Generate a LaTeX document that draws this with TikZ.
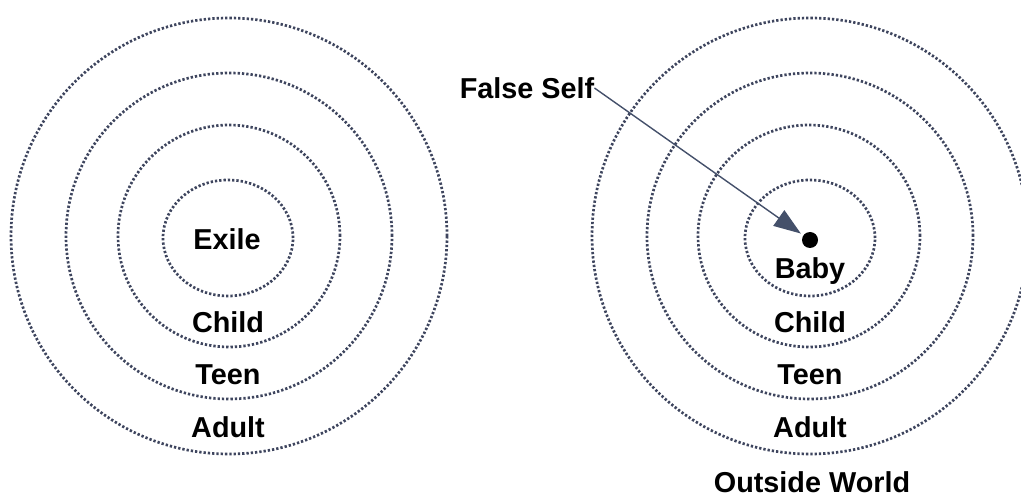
\documentclass[tikz,border=0pt]{standalone}
\usepackage{fontspec}
\setmainfont{Liberation Sans}
\usepackage{tikz}
\usetikzlibrary{positioning, arrows.meta}

\definecolor{ringgray}{HTML}{3E455E}
\definecolor{arrowblue}{HTML}{44506A}

\begin{document}
\begin{tikzpicture}[x=1pt, y=-1pt,
          ring/.style={draw=ringgray, line width=2.7pt, dash pattern=on 2.3pt off 2.0pt},
          every node/.style={font=\fontsize{28.8}{30}\selectfont\bfseries, inner sep=0pt}]
          \clip (0,0) rectangle (1021,497);
          % left rings
          \draw[ring] (229,236) circle [radius=218pt];
          \draw[ring] (229,236) circle [radius=163pt];
          \draw[ring] (229,236) circle [radius=111pt];
          \draw[ring] (228,238) ellipse [x radius=65pt, y radius=58pt];
          % right rings
          \draw[ring] (810,236) circle [radius=218pt];
          \draw[ring] (810,236) circle [radius=163pt];
          \draw[ring] (809,236) circle [radius=111pt];
          \draw[ring] (810,238) ellipse [x radius=65pt, y radius=58pt];

          \node (exile) at (227,239) {Exile};
          \node (childL) at (228,322) {Child};
          \node (teenL) at (228,375) {Teen};
          \node (adultL) at (228,427) {Adult};

          \node[circle, fill=black, minimum size=16pt] (self) at (810,240) {};
          \node (baby) at (810,271) {Baby};
          \node (childR) at (810,322) {Child};
          \node (teenR) at (810,375) {Teen};
          \node (adultR) at (810,427) {Adult};
          \node (world) at (812,482) {Outside World};
          \node (false) at (527,88) {False Self};

          \draw[arrowblue, line width=1.4pt, -{Triangle[length=27pt, width=19pt]}, shorten >=3pt]
            (false.east) -- (self);
        \end{tikzpicture}
\end{document}
